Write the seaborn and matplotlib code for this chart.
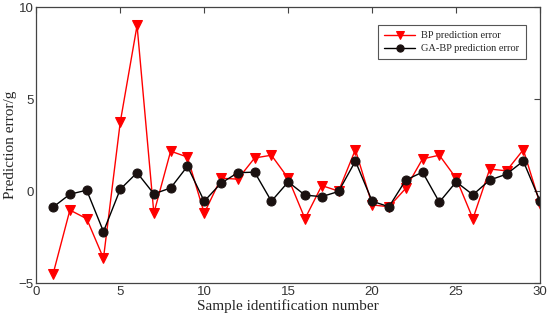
import numpy as np
import pandas as pd
import matplotlib
matplotlib.use('Agg')
import matplotlib.pyplot as plt
import seaborn as sns

# Данные
samples = list(range(1, 31))
bp_error = [-4.5, -1.03, -1.5, -3.65, 3.75, 9.0, -1.2, 2.17, 1.85, -1.2,
            0.7, 0.65, 1.8, 1.95, 0.7, -1.5, 0.3, 0.0, 2.25, -0.75,
            -0.85, 0.15, 1.75, 1.95, 0.7, -1.5, 1.2, 1.1, 2.25, -0.7]
gabp_error = [-0.87, -0.17, 0.05, -2.2, 0.1, 1.0, -0.15, 0.17, 1.35, -0.55,
              0.43, 1.0, 1.03, -0.55, 0.5, -0.22, -0.3, -0.02, 1.63, -0.55,
              -0.85, 0.6, 1.03, -0.6, 0.5, -0.2, 0.6, 0.92, 1.63, -0.55]
x_ticks = [0, 5, 10, 15, 20, 25, 30]
y_ticks = [-5, 0, 5, 10]

df = pd.DataFrame({'sample': samples, 'bp': bp_error, 'gabp': gabp_error})

sns.set_style('white')
plt.rcParams['font.family'] = ['Liberation Serif', 'DejaVu Serif']

fig = plt.figure(figsize=(5.5, 3.21), dpi=100)
ax = fig.add_axes([0.066, 0.118, 0.916, 0.86])

sns.lineplot(data=df, x='sample', y='bp', ax=ax, color='#ff0000', lw=1.0,
             marker='v', markersize=7, markeredgecolor='#ff0000',
             label='BP prediction error')
sns.lineplot(data=df, x='sample', y='gabp', ax=ax, color='black', lw=1.0,
             marker='o', markersize=6.5, markerfacecolor='#1a1110',
             markeredgecolor='#1a1110', label='GA-BP prediction error')

ax.set_xlim(0, 30)
ax.set_ylim(-5, 10)
ax.set_xticks(x_ticks)
ax.set_yticks(y_ticks)
ax.tick_params(direction='in', length=4, width=0.8, top=True, right=True,
               labelsize=9.5, colors='#444444', pad=2)
for lab in ax.get_xticklabels() + ax.get_yticklabels():
    lab.set_family(['Liberation Sans', 'DejaVu Sans'])
    lab.set_color('#333333')
for s in ax.spines.values():
    s.set_color('#444444')
    s.set_linewidth(0.9)

ax.set_xlabel('Sample identification number', fontsize=11, labelpad=1)
ax.set_ylabel('Prediction error/g', fontsize=11, labelpad=1)

leg = ax.legend(loc='upper right', bbox_to_anchor=(0.982, 0.955), fontsize=7.5,
                fancybox=False, framealpha=1, edgecolor='#555555',
                handlelength=3.0, borderpad=0.6, labelspacing=0.35,
                handletextpad=0.6, markerscale=0.8)
leg.get_frame().set_linewidth(0.8)

fig.savefig('out.png', dpi=100)
